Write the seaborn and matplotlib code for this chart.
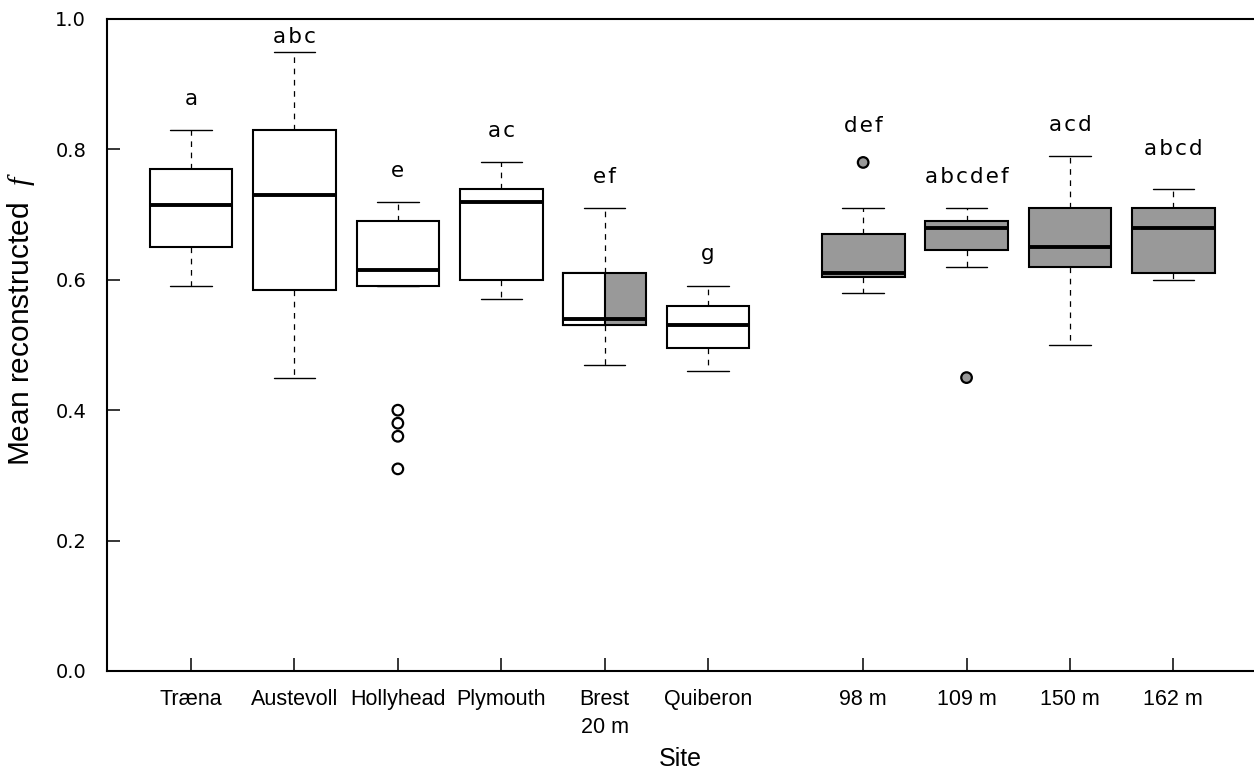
import numpy as np
import pandas as pd
import matplotlib
matplotlib.use("Agg")
import matplotlib.pyplot as plt
import seaborn as sns
from matplotlib.patches import Rectangle

# Sites along the x axis (coastal sites, then depth samples)
sites = ["Træna", "Austevoll", "Hollyhead", "Plymouth", "Brest\n20 m",
         "Quiberon", "98 m", "109 m", "150 m", "162 m"]
positions = [1, 2, 3, 4, 5, 6, 7.5, 8.5, 9.5, 10.5]

# Five-number summaries of mean reconstructed f per site
whisker_lo = [0.59, 0.45, 0.59, 0.57, 0.47, 0.46, 0.58, 0.62, 0.50, 0.60]
q1 = [0.65, 0.585, 0.59, 0.60, 0.53, 0.495, 0.605, 0.645, 0.62, 0.61]
median = [0.715, 0.73, 0.615, 0.72, 0.54, 0.53, 0.61, 0.68, 0.65, 0.68]
q3 = [0.77, 0.83, 0.69, 0.74, 0.61, 0.56, 0.67, 0.69, 0.71, 0.71]
whisker_hi = [0.83, 0.95, 0.72, 0.78, 0.71, 0.59, 0.71, 0.71, 0.79, 0.74]

# Outlying values
outlier_site = ["Hollyhead", "Hollyhead", "Hollyhead", "Hollyhead", "98 m", "109 m"]
outlier_value = [0.40, 0.38, 0.36, 0.31, 0.78, 0.45]

# Significance groupings and their baseline heights
letters = ["a", "abc", "e", "ac", "ef", "g", "def", "abcdef", "acd", "abcd"]
letter_y = [0.868, 0.963, 0.758, 0.819, 0.748, 0.630, 0.826, 0.749, 0.828, 0.791]

WHITE = "#ffffff"
GREY = "#999999"
fills = [WHITE, WHITE, WHITE, WHITE, GREY, WHITE, GREY, GREY, GREY, GREY]
split_site = "Brest\n20 m"  # half white, half grey

sns.set_style("ticks")
plt.rcParams["font.family"] = ["Liberation Sans", "DejaVu Sans"]
plt.rcParams["mathtext.fontset"] = "custom"
plt.rcParams["mathtext.it"] = "Liberation Serif:italic"
plt.rcParams["mathtext.rm"] = "Liberation Sans"
for key in ("text.color", "axes.labelcolor", "xtick.color", "ytick.color",
            "axes.edgecolor"):
    plt.rcParams[key] = "black"

fig = plt.figure(figsize=(12.54, 7.71), dpi=100)
ax = fig.add_axes([107 / 1254, 100 / 771, 1 - 107 / 1254, 652 / 771])

# Long-form table holding each site's summary values
rows = []
for s, p, lo, a, m, b, hi in zip(sites, positions, whisker_lo, q1, median, q3, whisker_hi):
    for v in (lo, a, m, b, hi):
        rows.append({"site": s, "pos": p, "value": v})
summary = pd.DataFrame(rows)

palette = dict(zip(sites, fills))
pos_of = dict(zip(sites, positions))

BOX_W = 0.8
sns.boxplot(
    data=summary, x="pos", y="value", hue="site", palette=palette,
    native_scale=True, dodge=False, width=BOX_W, whis=(0, 100),
    saturation=1, linecolor="black", fliersize=0, legend=False,
    boxprops=dict(linewidth=1.5),
    medianprops=dict(linewidth=2.8, zorder=3),
    whiskerprops=dict(linewidth=0.9, linestyle=(0, (4.5, 4.5))),
    capprops=dict(linewidth=1.0),
    ax=ax,
)

# Left half of the split box in white
i = sites.index(split_site)
ax.add_patch(Rectangle((positions[i] - BOX_W / 2, q1[i]), BOX_W / 2, q3[i] - q1[i],
                       facecolor=WHITE, edgecolor="black", linewidth=1.5, zorder=2.05))

# Outliers
sns.scatterplot(x=[pos_of[s] for s in outlier_site], y=outlier_value,
                hue=outlier_site, palette=palette, s=58, edgecolor="black",
                linewidth=1.6, legend=False, zorder=4, ax=ax)

# Grouping letters
for p, lab, y in zip(positions, letters, letter_y):
    ax.text(p, y, "\u200a".join(lab), ha="center", va="baseline",
            fontsize=15.5, family="DejaVu Sans", color="black")

ax.set_xlim(0.187, 11.28)
ax.set_ylim(0, 1)
ax.set_xticks(positions)
ax.set_xticklabels(sites, fontsize=15.5, linespacing=1.45)
ax.set_yticks([0, 0.2, 0.4, 0.6, 0.8, 1.0])
ax.set_yticklabels(["0.0", "0.2", "0.4", "0.6", "0.8", "1.0"], fontsize=14,
                   family="DejaVu Sans")
ax.tick_params(axis="both", direction="in", length=9.5, width=1.1, color="black")
ax.tick_params(axis="x", pad=13)
ax.tick_params(axis="y", pad=15)

for side in ("left", "bottom", "top"):
    ax.spines[side].set_linewidth(1.5)
    ax.spines[side].set_color("black")
ax.spines["right"].set_visible(False)

ax.set_xlabel("Site", fontsize=18)
ax.xaxis.set_label_coords(0.5, -0.117)
ax.set_ylabel("Mean reconstructed  $f$", fontsize=21.5)
ax.yaxis.set_label_coords(-0.061, 0.54)

fig.savefig("out.png", dpi=100)
